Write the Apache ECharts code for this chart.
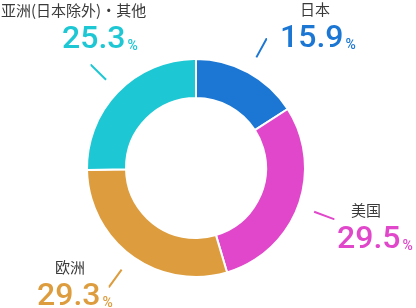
<!DOCTYPE html>
<html>
<head>
	<meta charset="UTF-8">
	<title>地区占比</title>
	<style type="text/css">
		html, body { margin: 0; padding: 0; background: #fff; }
		#pieChart { width: 416px; height: 308px; }
	</style>
	<script src="https://cdn.jsdelivr.net/npm/echarts@6/dist/echarts.min.js"></script>
</head>
<body>
	<div id="pieChart"></div>
<script type="text/javascript">
// 数据
var regions = ['日本', '美国', '欧洲', '亚洲(日本除外)・其他'];
var shares = [15.9, 29.5, 29.3, 25.3];
var colors = ['#1b77d3', '#e147ca', '#dd9d3e', '#1dc7d3'];

// 标签位置 [块左边, 块顶部, 名称缩进, 数值缩进]
var labelPos = [
	[280, -1, 20, 0],
	[337, 200, 14, 0],
	[37, 257, 18, 0],
	[1, 0, 0, 61]
];

var pieChart = echarts.init(document.getElementById('pieChart'));

var rich = {};
for (var i = 0; i < regions.length; i++) {
	rich['n' + i] = {
		fontFamily: '"Noto Sans CJK SC", sans-serif',
		fontSize: 15,
		color: '#3a3a3a',
		lineHeight: 20,
		padding: [0, 0, 0, labelPos[i][2]]
	};
	rich['v' + i] = {
		fontFamily: 'Roboto, sans-serif',
		fontSize: 32,
		fontWeight: 500,
		color: colors[i],
		lineHeight: 40,
		padding: [0, 0, 0, labelPos[i][3]]
	};
	rich['p' + i] = {
		fontFamily: 'Roboto, sans-serif',
		fontSize: 14,
		fontWeight: 500,
		color: colors[i],
		lineHeight: 16,
		verticalAlign: 'bottom',
		padding: [0, 0, 7, 2]
	};
}

var pieData = regions.map(function (name, i) {
	return { name: name, value: shares[i], itemStyle: { color: colors[i] } };
});

var lineData = regions.map(function (name, i) {
	return {
		name: name,
		value: shares[i],
		labelLine: { lineStyle: { color: colors[i] } }
	};
});

var pieOption = {
	animation: false,
	series: [
		{
			name: '地区占比',
			type: 'pie',
			center: [196, 168],
			radius: [70, 109],
			startAngle: 90,
			clockwise: true,
			avoidLabelOverlap: false,
			silent: true,
			itemStyle: {
				borderColor: '#fff',
				borderWidth: 2
			},
			label: {
				show: true,
				position: 'outside',
				formatter: function (p) {
					var i = p.dataIndex;
					return '{n' + i + '|' + p.name + '}\n{v' + i + '|' + p.value + '}{p' + i + '|%}';
				},
				rich: rich
			},
			labelLine: { show: false },
			labelLayout: function (params) {
				var p = labelPos[params.dataIndex];
				return { x: p[0], y: p[1], align: 'left', verticalAlign: 'top' };
			},
			data: pieData
		},
		{
			name: '引导线',
			type: 'pie',
			center: [196, 168],
			radius: [125, 126],
			startAngle: 90,
			clockwise: true,
			avoidLabelOverlap: false,
			silent: true,
			itemStyle: { color: 'transparent' },
			label: {
				show: true,
				position: 'outside',
				formatter: ' ',
				fontSize: 2
			},
			labelLine: {
				show: true,
				length: 21,
				length2: 0.5,
				lineStyle: { width: 2 }
			},
			data: lineData
		}
	]
};
pieChart.setOption(pieOption);
</script>
</body>
</html>
